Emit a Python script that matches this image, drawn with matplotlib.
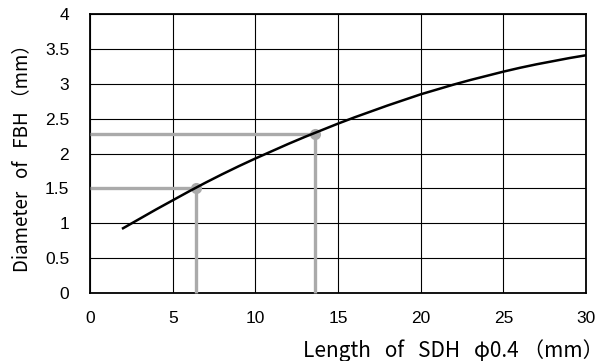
import numpy as np
import matplotlib.pyplot as plt

plt.rcParams['font.family'] = ['Noto Sans CJK JP', 'DejaVu Sans']

# curve: length of SDH vs. equivalent FBH diameter
sdh_len = list(range(2, 31))
fbh_dia = [0.93, 1.065, 1.20, 1.33, 1.46, 1.585, 1.705, 1.82, 1.93, 2.035,
           2.14, 2.24, 2.335, 2.43, 2.52, 2.605, 2.69, 2.77, 2.85, 2.92,
           2.99, 3.055, 3.115, 3.175, 3.23, 3.28, 3.325, 3.37, 3.41]

# two read-off examples (grey guide lines)
mark_x = [6.4, 13.6]
mark_y = [1.5, 2.28]

xticks = [0, 5, 10, 15, 20, 25, 30]
yticks = [0, 0.5, 1, 1.5, 2, 2.5, 3, 3.5, 4]
ytick_labels = ["0", "0.5", "1", "1.5", "2", "2.5", "3", "3.5", "4"]


def main():
    fig = plt.figure(figsize=(6.08, 3.61), dpi=100)
    ax = fig.add_axes([0.148, 0.188, 0.816, 0.773])

    ax.set_xlim(0, 30)
    ax.set_ylim(0, 4)
    ax.set_xticks(xticks)
    ax.set_yticks(yticks)
    ax.set_yticklabels(ytick_labels)
    ax.tick_params(length=0, labelsize=12.5, pad=13)
    ax.tick_params(axis='y', pad=15)
    for lab in ax.get_xticklabels() + ax.get_yticklabels():
        lab.set_family('Liberation Sans')

    ax.grid(True, color='black', linewidth=0.8)
    ax.set_axisbelow(True)
    for sp in ax.spines.values():
        sp.set_linewidth(1.3)
        sp.set_color('black')

    grey = '#aaaaaa'
    for mx, my in zip(mark_x, mark_y):
        ax.plot([0, mx], [my, my], color=grey, linewidth=2.4, solid_capstyle='butt', zorder=3, clip_on=False)
        ax.plot([mx, mx], [0, my], color=grey, linewidth=2.4, solid_capstyle='butt', zorder=3, clip_on=False)
    ax.plot(mark_x, mark_y, 'o', color=grey, markersize=7, zorder=4)

    ax.plot(sdh_len, fbh_dia, color='black', linewidth=1.8, zorder=5)

    ax.set_ylabel("Diameter   of   FBH （mm）", fontsize=13.5, labelpad=9)
    ax.set_xlabel("Length   of   SDH   φ0.4 （mm）", fontsize=15)
    ax.xaxis.set_label_coords(1.035, -0.165)
    ax.xaxis.label.set_horizontalalignment('right')

    fig.savefig("out.png", dpi=100)


if __name__ == "__main__":
    main()
